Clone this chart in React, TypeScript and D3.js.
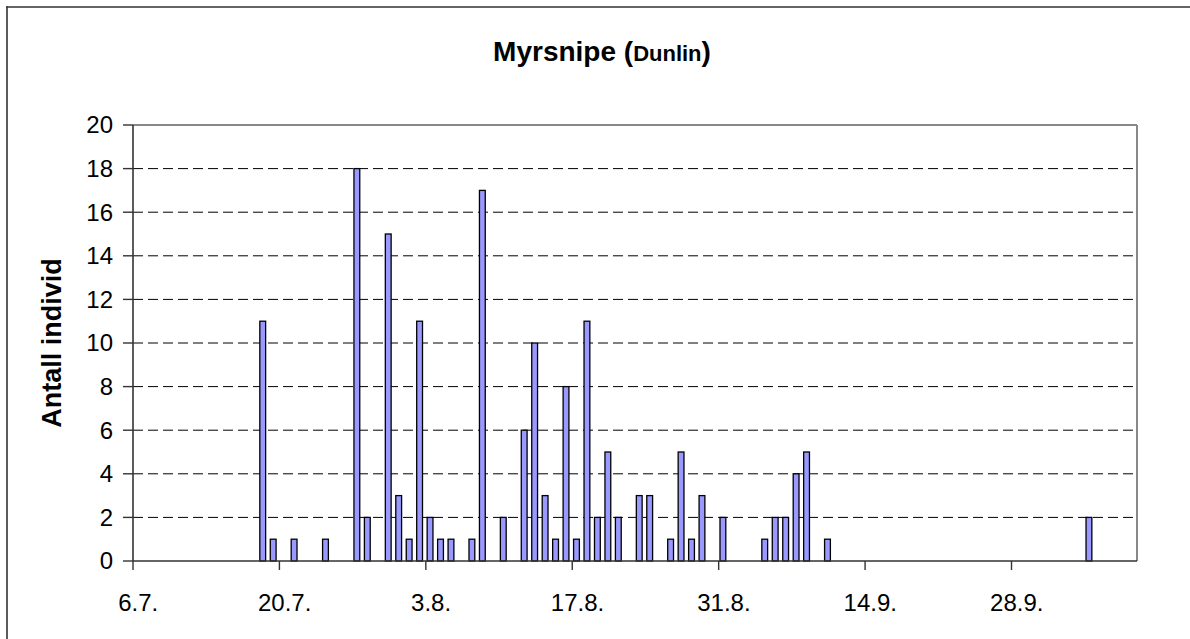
import React from 'react'
import * as d3 from 'd3'

// observation dates (day.month.) and counts
const dates = [
  '18.7.', '19.7.', '21.7.', '24.7.', '27.7.', '28.7.', '30.7.', '31.7.', '1.8.', '2.8.',
  '3.8.', '4.8.', '5.8.', '7.8.', '8.8.', '10.8.', '12.8.', '13.8.', '14.8.', '15.8.',
  '16.8.', '17.8.', '18.8.', '19.8.', '20.8.', '21.8.', '23.8.', '24.8.', '26.8.', '27.8.',
  '28.8.', '29.8.', '31.8.', '4.9.', '5.9.', '6.9.', '7.9.', '8.9.', '10.9.', '5.10.'
]
const counts = [
  11, 1, 1, 1, 18, 2, 15, 3, 1, 11,
  2, 1, 1, 1, 17, 2, 6, 10, 3, 1,
  8, 1, 11, 2, 5, 2, 3, 3, 1, 5,
  1, 3, 2, 1, 2, 2, 4, 5, 1, 2
]
const yTicks = [0, 2, 4, 6, 8, 10, 12, 14, 16, 18, 20]
const axisStart = '6.7.'
const axisEnd = '10.10.'
const tickStepDays = 14

const YEAR = 2005
const parse = (s: string) => {
  const [d, m] = s.split('.').map(Number)
  return new Date(Date.UTC(YEAR, m - 1, d))
}

const App = () => {
  const width = 1190
  const height = 639
  const left = 133
  const right = 1137
  const top = 125
  const bottom = 561

  const start = parse(axisStart)
  const end = parse(axisEnd)
  const x = d3.scaleUtc().domain([start, end]).range([left, right])
  const y = d3.scaleLinear().domain([0, 20]).range([bottom, top])
  const dayW = x(d3.utcDay.offset(start, 1)) - x(start)
  const barW = dayW / 1.8

  const xTicks = d3.utcDay.range(start, end, tickStepDays)
  const fmt = d3.utcFormat('%-d.%-m.')
  const font = 'Arial, "Liberation Sans", sans-serif'

  return (
    <>
      <style>{'body{margin:0;overflow:hidden}'}</style>
      <svg width={width} height={height} style={{ position: 'absolute', left: 0, top: 0, display: 'block' }} fontFamily={font}>
        <rect x={0} y={0} width={width} height={height} fill="#fff" />
        {/* chart frame: only the top and left edges are inside the picture */}
        <line x1={6.2} x2={width} y1={7} y2={7} stroke="#333" strokeWidth={1.6} />
        <line x1={7} x2={7} y1={6.2} y2={height} stroke="#333" strokeWidth={1.6} />

        <text x={602} y={61} textAnchor="middle" fontWeight="bold" fontSize={28}>
          Myrsnipe (<tspan fontSize={22}>Dunlin</tspan>)
        </text>

        {/* grid */}
        {yTicks.filter(t => t > 0 && t < 20).map(t => (
          <line key={t} x1={left} x2={right} y1={y(t)} y2={y(t)} stroke="#000" strokeWidth={1} strokeDasharray="10,5" />
        ))}
        <line x1={left} x2={right} y1={top} y2={top} stroke="#888" strokeWidth={2} />
        <line x1={right} x2={right} y1={top} y2={bottom} stroke="#888" strokeWidth={2} />

        {/* bars */}
        {dates.map((d, i) => {
          const cx = x(parse(d)) + dayW / 2 - 1
          return (
            <rect key={d} x={cx - barW / 2} y={y(counts[i])} width={barW} height={bottom - y(counts[i])}
              fill="#9999ff" stroke="#000" strokeWidth={1.3} />
          )
        })}

        {/* y axis */}
        <line x1={left} x2={left} y1={top} y2={bottom} stroke="#333" strokeWidth={1.6} />
        {yTicks.map(t => (
          <g key={t}>
            <line x1={left - 10} x2={left} y1={y(t)} y2={y(t)} stroke="#333" strokeWidth={1.4} />
            <text x={113} y={y(t)} dy="0.35em" textAnchor="end" fontSize={24}>{t}</text>
          </g>
        ))}

        {/* x axis */}
        <line x1={left} x2={right} y1={bottom} y2={bottom} stroke="#333" strokeWidth={1.6} />
        {xTicks.map(t => (
          <g key={+t}>
            <line x1={x(t)} x2={x(t)} y1={bottom} y2={bottom + 9} stroke="#333" strokeWidth={1.4} />
            <text x={x(t) + dayW / 2} y={611} textAnchor="middle" fontSize={24}>{fmt(t)}</text>
          </g>
        ))}

        <text transform={`translate(61,${(top + bottom) / 2}) rotate(-90)`} textAnchor="middle" fontWeight="bold" fontSize={27}>
          Antall individ
        </text>
      </svg>
    </>
  )
}

export default App
